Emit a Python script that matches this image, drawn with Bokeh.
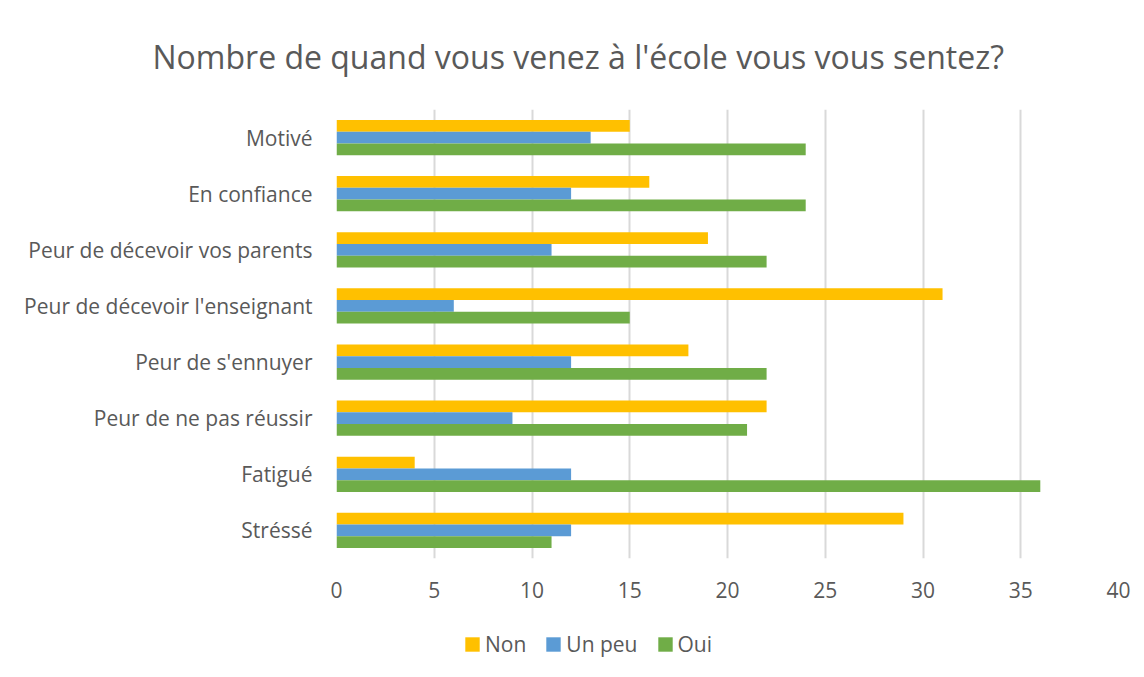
from bokeh.plotting import figure
from bokeh.layouts import column
from bokeh.models import ColumnDataSource, FactorRange, Range1d, FixedTicker, Legend, LegendItem
from bokeh.transform import dodge
from bokeh.embed import file_html
from bokeh.resources import INLINE

categories = ["Motivé", "En confiance", "Peur de décevoir vos parents",
              "Peur de décevoir l'enseignant", "Peur de s'ennuyer",
              "Peur de ne pas réussir", "Fatigué", "Stréssé"]
non = [15, 16, 19, 31, 18, 22, 4, 29]
un_peu = [13, 12, 11, 6, 12, 9, 12, 12]
oui = [24, 24, 22, 15, 22, 21, 36, 11]
series = ["Non", "Un peu", "Oui"]
colors = ["#FFC000", "#5B9BD5", "#70AD47"]
x_ticks = [0, 5, 10, 15, 20, 25, 30, 35, 40]

FONT = "Open Sans"
TXT = "#595959"
GRID = "#d9d9d9"

src = ColumnDataSource(dict(cat=categories, non=non, un_peu=un_peu, oui=oui))

p = figure(
    y_range=FactorRange(factors=list(reversed(categories))),
    x_range=Range1d(0, 40),
    frame_width=782, frame_height=449,
    min_border_left=336, min_border_right=20,
    min_border_top=109, min_border_bottom=62,
    output_backend="svg", toolbar_location=None,
    title="Nombre de quand vous venez à l'école vous vous sentez?",
)

p.title.align = "left"
p.title.offset = -184
p.title.text_font = FONT
p.title.text_font_size = "32px"
p.title.text_font_style = "normal"
p.title.text_color = TXT
p.title.standoff = 64

h = 0.21
for col, off, c in zip(["non", "un_peu", "oui"], [h, 0, -h], colors):
    p.hbar(y=dodge("cat", off, range=p.y_range), right=col, left=0, height=h,
           source=src, color=c, line_color=None)

p.xaxis.ticker = FixedTicker(ticks=x_ticks)
p.xaxis.axis_line_color = None
p.xaxis.major_tick_line_color = None
p.xaxis.minor_tick_line_color = None
p.xaxis.major_tick_out = 0
p.xaxis.major_label_text_font = FONT
p.xaxis.major_label_text_font_size = "21px"
p.xaxis.major_label_text_color = TXT
p.xaxis.major_label_standoff = 23

p.yaxis.axis_line_color = None
p.yaxis.major_tick_line_color = None
p.yaxis.minor_tick_line_color = None
p.yaxis.major_tick_out = 0
p.yaxis.major_label_text_font = FONT
p.yaxis.major_label_text_font_size = "21px"
p.yaxis.major_label_text_color = TXT
p.yaxis.major_label_standoff = 24

p.ygrid.grid_line_color = None
p.xgrid.grid_line_color = GRID
p.xgrid.grid_line_width = 2
p.outline_line_color = None

# legend strip below the chart (zero-width placeholder bars only carry the legend swatches)
lg = figure(width=1138, height=50, x_range=Range1d(0, 1), y_range=Range1d(0, 1),
            min_border=0, output_backend="svg", toolbar_location=None)
lg.axis.visible = False
lg.grid.visible = False
lg.outline_line_color = None
items = []
for name, c in zip(series, colors):
    r = lg.hbar(y=[0.5], right=[0], left=[0], height=0.1, color=c, line_color=None)
    items.append(LegendItem(label=name, renderers=[r]))

legend = Legend(items=items, orientation="horizontal", location=(127, 12))
legend.padding = 0
legend.margin = 0
legend.spacing = 18
legend.glyph_width = 18
legend.glyph_height = 18
legend.label_standoff = 4
legend.label_text_font = FONT
legend.label_text_font_size = "21px"
legend.label_text_color = TXT
legend.border_line_color = None
legend.background_fill_alpha = 0
lg.add_layout(legend, "center")

layout = column(p, lg, spacing=0)
open("out.html", "w").write(file_html(layout, INLINE))
